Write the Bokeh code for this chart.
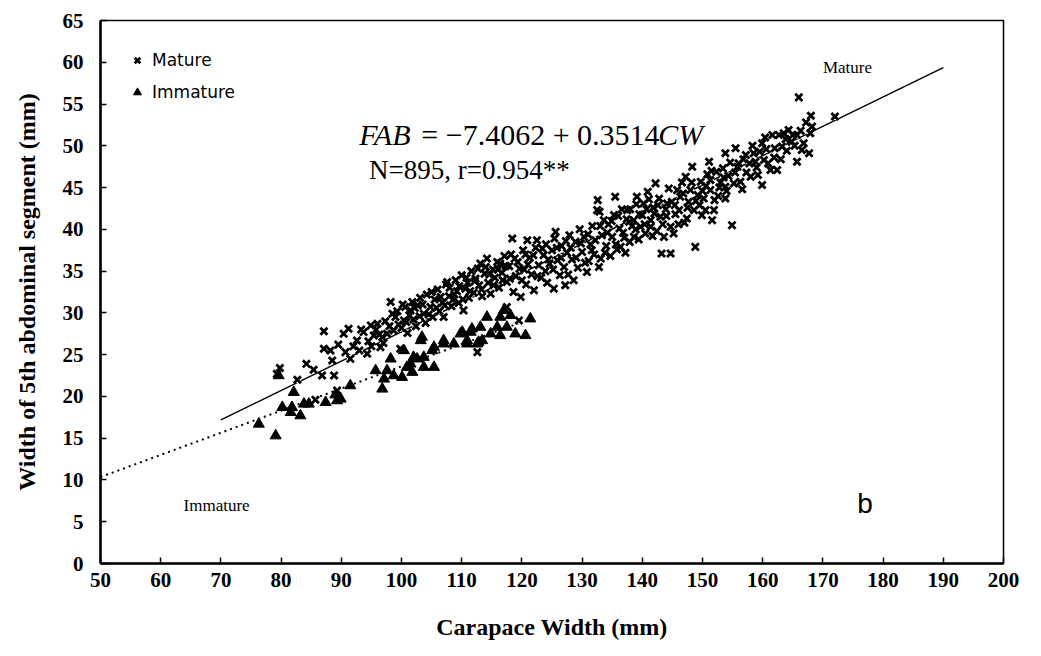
from bokeh.plotting import figure
from bokeh.models import Label, Legend, LegendItem, FixedTicker
from bokeh.embed import file_html
from bokeh.resources import INLINE

# ---------------- data ----------------
mature_cw = [79.8, 79.3, 82.7, 84.2, 85.4, 85.7, 86.8, 87.1, 87.1, 88.2, 88.8, 89.3, 88.5, 89.5,
             90.4, 91.2, 90.7, 91.5, 92.0, 92.6, 93.0, 93.3, 93.7, 94.3, 94.5, 94.9, 95.4, 96.0,
             96.5, 96.8, 97.6, 97.3, 98.2, 98.0, 98.7, 99.0, 99.3, 99.8, 100.0, 100.4, 100.6, 101.0,
             101.5, 101.8, 102.0, 102.4, 102.7, 103.1, 103.7, 104.0, 104.2, 104.8, 105.2, 105.5,
             106.0, 106.3, 106.8, 107.0, 107.4, 107.6, 107.9, 108.3, 108.6, 109.0, 109.2, 109.5,
             110.0, 110.3, 110.6, 111.0, 111.2, 111.6, 112.0, 112.3, 112.6, 112.9, 113.1, 113.4,
             113.8, 114.2, 114.4, 114.8, 115.2, 115.5, 115.9, 116.4, 116.2, 116.7, 117.1, 117.5,
             117.5, 117.9, 118.4, 118.2, 118.6, 119.0, 119.3, 119.5, 119.8, 120.2, 120.4, 120.7,
             120.9, 121.3, 121.6, 122.0, 122.3, 122.5, 122.8, 123.2, 123.6, 124.0, 124.2, 124.6,
             125.0, 125.3, 125.6, 125.4, 125.9, 126.3, 126.6, 127.0, 127.2, 127.5, 127.9, 128.3,
             128.6, 128.9, 129.3, 129.6, 130.0, 130.3, 130.8, 131.1, 131.4, 131.7, 132.0, 132.5,
             132.6, 132.9, 132.8, 133.1, 133.3, 133.6, 134.0, 134.4, 134.7, 135.0, 135.3, 135.5,
             135.8, 136.2, 136.4, 136.6, 137.0, 137.4, 137.5, 137.9, 138.3, 138.6, 138.6, 139.0,
             139.1, 139.4, 139.7, 140.0, 140.2, 140.5, 140.9, 141.4, 141.4, 141.8, 142.2, 142.4,
             142.8, 143.0, 143.2, 143.6, 143.9, 144.1, 144.4, 144.7, 144.7, 145.2, 145.5, 145.8,
             146.1, 146.3, 146.6, 147.0, 147.2, 147.4, 147.7, 148.0, 148.3, 148.6, 148.8, 149.2,
             149.7, 149.9, 150.2, 150.5, 150.8, 151.1, 151.3, 151.3, 151.6, 151.9, 152.3, 152.6,
             153.0, 153.4, 153.8, 153.8, 153.8, 154.3, 154.9, 155.2, 155.5, 155.8, 156.3, 156.8,
             157.3, 157.8, 158.5, 158.8, 159.2, 159.9, 159.9, 160.2, 160.6, 161.3, 161.6, 162.0,
             162.4, 162.7, 163.2, 163.8, 164.3, 164.8, 165.0, 165.7, 165.7, 166.0, 166.8, 167.2,
             167.7, 167.9, 168.0, 168.2, 172.0,
             95.0, 95.8, 96.3, 97.0, 98.5, 99.5, 100.2, 100.8, 101.3, 102.2, 103.0, 103.5, 104.5,
             105.0, 105.8, 106.5, 107.2, 108.0, 108.8, 109.6, 110.2, 110.8, 111.4, 112.2, 112.7,
             113.3, 114.0, 114.6, 115.3, 116.0, 116.8, 117.3, 118.0, 118.8, 119.6, 120.0, 120.6,
             121.0, 121.9, 122.6, 123.4, 123.9, 124.4, 125.2, 125.8, 126.5, 127.3, 127.7, 128.1,
             129.0, 129.8, 130.5, 131.0, 131.6, 132.2, 133.0, 133.8, 134.2, 134.9, 135.6, 136.0,
             136.8, 137.2, 137.8, 138.0, 138.9, 139.5, 140.4, 140.7, 141.1, 141.7, 142.0, 142.6,
             143.4, 144.0, 144.9, 145.4, 146.0, 146.8, 147.5, 148.2, 148.9, 149.5, 150.0, 150.6,
             151.5, 152.0, 152.8, 153.5, 154.0, 154.6, 155.4, 156.0, 156.6, 157.2, 158.0, 158.3,
             159.0, 159.5, 160.4, 160.9, 161.9, 163.0, 163.5, 164.0, 165.3, 166.3, 166.5]
mature_fab = [23.4, 22.7, 22.0, 23.9, 23.2, 19.6, 22.5, 27.8, 25.7, 25.5, 22.5, 20.7, 24.3, 26.2,
              27.5, 28.1, 25.3, 24.5, 26.0, 26.7, 25.5, 28.0, 27.7, 25.1, 26.6, 28.5, 27.3, 28.7,
              25.9, 27.1, 27.5, 29.0, 31.3, 28.4, 27.9, 29.5, 30.2, 25.7, 28.2, 29.1, 30.7, 27.6,
              30.3, 31.3, 29.2, 28.4, 30.9, 31.8, 29.9, 28.8, 32.2, 30.7, 29.5, 31.6,
              32.8, 30.2, 31.2, 29.5, 33.4, 33.7, 32.0, 30.8, 31.6, 33.9, 32.6, 31.2,
              34.5, 30.3, 32.9, 33.6, 31.8, 35.0, 32.4, 34.1, 25.3, 33.3, 35.9, 32.0,
              34.7, 36.5, 33.6, 32.3, 35.2, 34.2, 36.1, 35.9, 33.0, 34.8, 36.8, 30.7,
              33.7, 35.6, 38.9, 37.0, 32.5, 34.4, 36.1, 29.1, 31.9, 37.5, 35.2, 33.4,
              38.7, 36.6, 34.6, 32.7, 37.8, 38.7, 35.7, 34.2, 36.9, 38.2, 33.6, 35.9,
              37.5, 32.9, 39.7, 38.9, 36.3, 34.5, 38.0, 35.5, 33.3, 37.2, 39.3, 36.4,
              33.9, 38.5, 35.4, 40.0, 37.3, 39.1, 34.9, 36.2, 38.2, 40.4, 37.0, 42.3,
              43.5, 42.1, 35.5, 36.5, 39.3, 41.1, 38.0, 40.6, 36.8, 39.1, 41.7, 43.9,
              37.6, 40.1, 37.9, 42.4, 39.0, 41.2, 42.3, 38.5, 40.4, 39.1, 41.1, 43.0,
              43.9, 38.8, 40.3, 41.7, 43.1, 39.5, 44.5, 40.3, 41.1, 42.6, 45.5, 39.8,
              43.7, 41.5, 37.1, 39.1, 42.4, 43.1, 44.9, 37.1, 40.3, 39.5, 41.8, 44.7,
              42.3, 43.9, 45.6, 40.8, 46.3, 41.3, 43.3, 44.7, 47.5, 42.3, 37.9, 44.1,
              45.7, 41.7, 43.7, 42.3, 46.6, 48.1, 44.7, 45.9, 41.1, 42.3, 46.9, 44.0,
              45.6, 47.3, 49.1, 45.1, 43.7, 46.4, 40.5, 45.5, 49.7, 47.5, 45.7, 48.4,
              46.8, 47.9, 49.1, 48.1, 46.5, 45.3, 50.3, 48.3, 49.6, 47.1, 51.3, 49.7,
              47.1, 51.3, 49.9, 50.8, 51.9, 50.5, 51.3, 48.1, 51.3, 55.8, 50.3, 52.8,
              49.1, 51.5, 53.6, 52.3, 53.5,
              26.0, 28.0, 27.4, 26.4, 29.9, 28.6, 31.0, 28.9, 29.7, 30.6, 29.6, 31.0, 29.8,
              32.5, 30.6, 31.9, 30.9, 33.0, 32.2, 33.2, 31.6, 34.2, 32.6, 33.8, 35.3,
              32.8, 35.5, 34.6, 33.3, 35.2, 33.9, 35.6, 34.1, 36.5, 35.3, 33.9, 37.0,
              35.8, 36.9, 34.4, 37.7, 35.0, 36.4, 35.2, 37.8, 36.6, 38.6, 34.6, 37.8,
              36.6, 38.3, 36.0, 39.4, 37.5, 38.7, 40.4, 37.2, 39.6, 41.0, 38.2, 41.6,
              39.6, 37.2, 40.9, 42.4, 40.0, 41.8, 40.6, 42.4, 43.6, 39.2, 41.9, 42.9,
              40.6, 41.6, 43.3, 42.9, 40.6, 44.3, 42.6, 45.6, 43.4, 42.9, 44.6, 45.2,
              47.0, 43.5, 45.0, 46.2, 44.6, 48.0, 46.8, 47.9, 44.8, 48.9, 46.3, 50.0,
              47.4, 49.3, 51.0, 47.9, 48.6, 48.4, 51.5, 49.4, 50.0, 51.8, 49.5]

immature_cw = [76.3, 79.1, 79.6, 80.2, 81.6, 81.8, 82.1, 83.2, 83.8, 84.6, 87.4, 89.3, 89.9, 89.0,
               91.5, 95.7, 96.8, 97.1, 97.6, 98.2, 98.7, 100.1, 100.4, 100.9, 101.5, 101.8, 102.0,
               102.6, 103.2, 103.4, 103.7, 103.7, 105.1, 105.4, 105.4, 107.0, 107.0, 108.7, 109.8,
               110.1, 110.9, 110.9, 111.5, 111.7, 112.6, 112.8, 113.1, 113.4, 114.2, 114.8, 115.9,
               116.4, 116.4, 117.0, 117.5, 118.1, 118.9, 120.6, 121.4]
immature_fab = [16.7, 15.3, 22.5, 18.7, 18.1, 18.7, 20.5, 17.7, 19.1, 19.1, 19.3, 19.5, 19.7, 20.2,
                21.3, 23.1, 20.9, 22.1, 23.1, 24.5, 22.5, 22.3, 25.5, 23.5, 23.9, 22.9, 24.7,
                24.5, 26.7, 27.1, 23.5, 24.7, 25.5, 23.5, 25.9, 26.3, 26.7, 26.3, 27.5,
                27.7, 26.3, 26.7, 27.7, 28.1, 26.3, 26.5, 28.3, 26.7, 29.5, 27.5, 28.3,
                29.5, 27.3, 30.3, 28.3, 29.7, 27.5, 27.3, 29.3]

mature_fit = [-7.4062, 0.3514]      # intercept, slope (from the printed equation)
mature_fit_cw = [70, 190]
immature_fit = [-2.9, 0.265]        # estimated from the dotted curve
immature_fit_cw = [50, 120]

x_ticks = list(range(50, 201, 10))
y_ticks = list(range(0, 66, 5))

# ---------------- figure ----------------
p = figure(width=1041, height=656, x_range=(50, 200), y_range=(0, 65),
           output_backend="svg", toolbar_location=None,
           min_border_left=100, min_border_right=38, min_border_top=20, min_border_bottom=93)
p.background_fill_color = "white"
p.border_fill_color = "white"
p.xgrid.visible = False
p.ygrid.visible = False
p.outline_line_color = "black"
p.outline_line_width = 1.5
p.outline_line_alpha = 1

serif = "Liberation Serif"
for ax in (p.xaxis[0], p.yaxis[0]):
    ax.axis_line_width = 2.5
    ax.axis_line_color = "black"
    ax.major_tick_in = 6
    ax.major_tick_out = 0
    ax.major_tick_line_width = 1.5
    ax.minor_tick_line_color = None
    ax.major_label_text_font = serif
    ax.major_label_text_font_style = "bold"
    ax.major_label_text_font_size = "21px"
    ax.major_label_text_color = "black"
    ax.axis_label_text_font = serif
    ax.axis_label_text_font_style = "bold"
    ax.axis_label_text_color = "black"

p.xaxis.ticker = FixedTicker(ticks=x_ticks)
p.yaxis.ticker = FixedTicker(ticks=y_ticks)
p.xaxis.major_label_standoff = 9
p.yaxis.major_label_standoff = 17
p.xaxis.axis_label = "Carapace Width (mm)"
p.yaxis.axis_label = "Width of 5th abdominal segment (mm)"
p.xaxis.axis_label_text_font_size = "24px"
p.yaxis.axis_label_text_font_size = "24px"
p.xaxis.axis_label_standoff = 24
p.yaxis.axis_label_standoff = 20

# regression lines
mx = mature_fit_cw
my = [mature_fit[0] + mature_fit[1] * v for v in mx]
p.line(mx, my, line_color="black", line_width=1.5)
ix = immature_fit_cw
iy = [immature_fit[0] + immature_fit[1] * v for v in ix]
p.line(ix, iy, line_color="black", line_width=2, line_dash="2 4")

# points (white backing hides the lines under dense clusters, as in the scan)
p.scatter(mature_cw, mature_fab, marker="square", size=7, fill_color="white", line_color=None)
rm = p.scatter(mature_cw, mature_fab, marker="x", size=10,
               line_color="black", line_width=2.8)
ri = p.scatter(immature_cw, immature_fab, marker="triangle", size=11,
               fill_color="black", line_color="black")

legend = Legend(items=[LegendItem(label="Mature", renderers=[rm]),
                       LegendItem(label="Immature", renderers=[ri])],
                location="top_left", margin=0, padding=27, spacing=6,
                glyph_height=26, label_height=26, glyph_width=20, label_standoff=5,
                background_fill_alpha=0, border_line_alpha=0,
                label_text_font="DejaVu Sans", label_text_font_size="17px",
                label_text_color="black")
p.add_layout(legend)

# equation text
fs = "30px"
eq_x, eq_y = 93.0, 51.4
p.add_layout(Label(x=eq_x, y=eq_y, text="FAB", text_font=serif, text_font_style="italic",
                   text_font_size=fs, text_baseline="alphabetic", text_color="black"))
p.add_layout(Label(x=eq_x, y=eq_y, x_offset=62, text="= \u22127.4062 + 0.3514", text_font=serif,
                   text_font_size=fs, text_baseline="alphabetic", text_color="black"))
p.add_layout(Label(x=eq_x, y=eq_y, x_offset=299, text="CW", text_font=serif, text_font_style="italic",
                   text_font_size=fs, text_baseline="alphabetic", text_color="black"))
p.add_layout(Label(x=94.6, y=47.1, text="N=895, r=0.954**", text_font=serif,
                   text_font_size="27px", text_baseline="alphabetic", text_color="black"))

p.add_layout(Label(x=170.0, y=59.4, text="Mature", text_font=serif, text_font_size="17px",
                   text_baseline="middle", text_color="black"))
p.add_layout(Label(x=63.8, y=7.0, text="Immature", text_font=serif, text_font_size="17px",
                   text_baseline="middle", text_color="black"))
p.add_layout(Label(x=175.7, y=7.2, text="b", text_font="Liberation Sans", text_font_size="28px",
                   text_baseline="middle", text_color="black"))

open("out.html", "w").write(file_html(p, INLINE))
